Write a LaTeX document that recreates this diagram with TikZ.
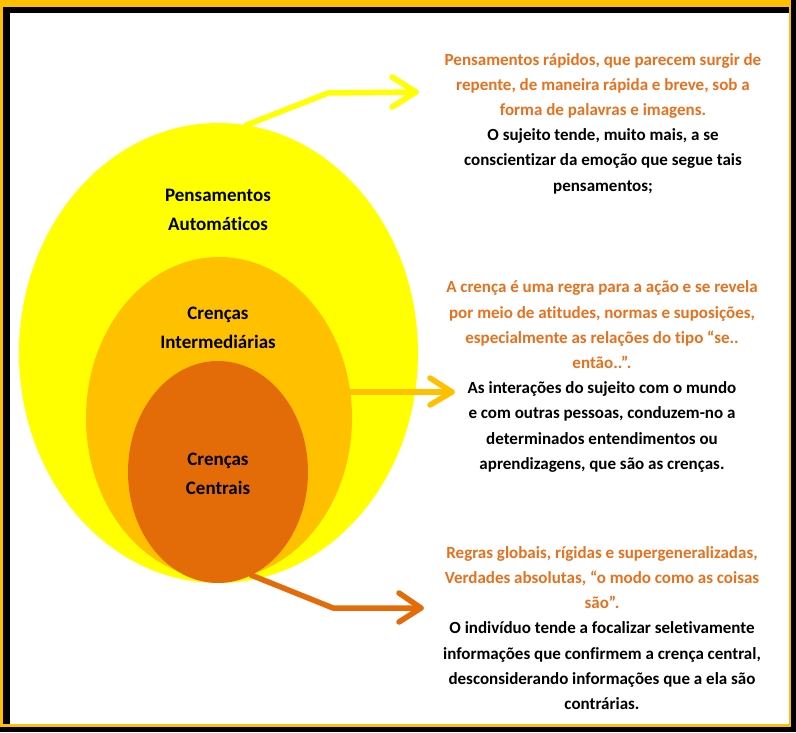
\documentclass[tikz,border=0pt]{standalone}
\usepackage{fontspec}
\setmainfont{Carlito}[Ligatures=NoCommon]
\usetikzlibrary{shapes.geometric,calc}
\definecolor{gold}{HTML}{FFC000}
\definecolor{dorange}{HTML}{E36C09}
\definecolor{torange}{HTML}{E6711E}
\definecolor{yel}{HTML}{FFFF00}
\newcommand\orl[1]{\textcolor{torange}{#1}}
\begin{document}
\begin{tikzpicture}[x=1pt,y=-1pt,
 blob/.style={ellipse, inner sep=0pt, draw=none},
 lbl/.style={font=\fontsize{19}{29}\selectfont\bfseries, align=center, text=black},
 desc/.style={font=\fontsize{17}{25.2}\selectfont\bfseries, align=center, text=black},
 arrowline/.style={line width=5.5pt, line cap=round, line join=round}]
\useasboundingbox (0,0) rectangle (796,732);
\fill[black] (0,0) rectangle (796,732);
\fill[gold] (0,0) rectangle (791,727);
\fill[black] (3,7) rectangle (789,724);
\fill[white] (10,13) rectangle (789,724);
% ellipses
\node[blob, fill=yel, minimum width=399pt, minimum height=460pt] (pa) at (218.5,353) {};
\node[blob, fill=gold, minimum width=266pt, minimum height=322pt] (pb) at (219,418) {};
\node[blob, fill=dorange, minimum width=180pt, minimum height=222pt] (pc) at (218,472) {};
% labels
\node[lbl] (la) at (218,209.5) {Pensamentos\\Automáticos};
\node[lbl] (lb) at (218,328) {Crenças\\Intermediárias};
\node[lbl] (lc) at (218,473.5) {Crenças\\Centrais};
% description texts
\node[desc] (da) at (603,123.5) {\orl{Pensamentos rápidos, que parecem surgir de}\\
\orl{repente, de maneira rápida e breve, sob a}\\
\orl{forma de palavras e imagens.}\\
O sujeito tende, muito mais, a se\\
conscientizar da emoção que segue tais\\
pensamentos;};
\node[desc] (db) at (602,376.5) {\orl{A crença é uma regra para a ação e se revela}\\
\orl{por meio de atitudes, normas e suposições,}\\
\orl{especialmente as relações do tipo “se..}\\
\orl{então..”.}\\
As interações do sujeito com o mundo\\
e com outras pessoas, conduzem-no a\\
determinados entendimentos ou\\
aprendizagens, que são as crenças.};
\node[desc] (dc) at (602,628) {\orl{Regras globais, rígidas e supergeneralizadas,}\\
\orl{Verdades absolutas, “o modo como as coisas}\\
\orl{são”.}\\
O indivíduo tende a focalizar seletivamente\\
informações que confirmem a crença central,\\
desconsiderando informações que a ela são\\
contrárias.};
% arrows
\coordinate (k1) at (328,93);
\coordinate (t1) at (416,92);
\draw[arrowline, yel] (pa.83) -- (k1) -- (t1);
\draw[arrowline, yel] ([shift={(-24,-15)}]t1) -- (t1) -- ([shift={(-24,15)}]t1);
\coordinate (t2) at (452,392);
\draw[arrowline, gold] ([xshift=-8pt]t2 -| pb.east) -- (t2);
\draw[arrowline, gold] ([shift={(-22,-14)}]t2) -- (t2) -- ([shift={(-22,13)}]t2);
\coordinate (k3) at (333,608);
\coordinate (t3) at (421,608);
\draw[arrowline, dorange] (pc.-72) -- (k3) -- (t3);
\draw[arrowline, dorange] ([shift={(-22,-15)}]t3) -- (t3) -- ([shift={(-22,14)}]t3);
\end{tikzpicture}
\end{document}
